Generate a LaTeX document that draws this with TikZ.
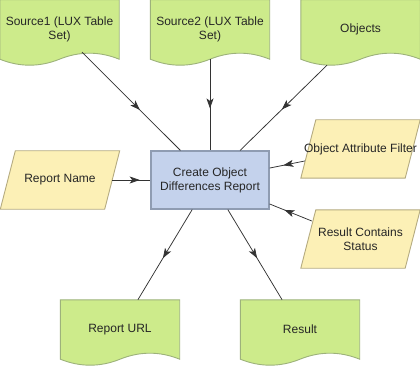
\documentclass[tikz,border=0pt]{standalone}
\usepackage{fontspec}
\setmainfont{Liberation Sans}
\usepackage{tikz}
\usetikzlibrary{arrows.meta,calc,decorations.markings,backgrounds}

\definecolor{docfill}{HTML}{CDEB8B}
\definecolor{docline}{HTML}{9DB27B}
\definecolor{parafill}{HTML}{FCF0B6}
\definecolor{paraline}{HTML}{B5AB80}
\definecolor{procfill}{HTML}{C4D2EC}
\definecolor{procline}{HTML}{8F9CB2}
\definecolor{flowgray}{HTML}{333333}

\begin{document}
\begin{tikzpicture}[x=1pt, y=-1pt,
  doc/.style={rectangle, inner sep=0pt, minimum width=119pt, minimum height=59pt, align=center, font=\fontsize{12}{14}\selectfont, text=black!85},
  docshape/.style={draw=docline, fill=docfill, line width=0.9pt},
  para/.style={rectangle, inner sep=0pt, minimum width=119pt, minimum height=58pt, align=center, font=\fontsize{12}{14}\selectfont, text=black!85},
  parashape/.style={draw=paraline, fill=parafill, line width=0.9pt},
  proc/.style={rectangle, draw=procline, fill=procfill, line width=1.2pt, minimum width=118pt, minimum height=58pt, align=center, font=\fontsize{12}{14}\selectfont, text=black!85},
  flow/.style={draw, color=flowgray, line width=0.75pt, postaction={decorate}, decoration={markings, mark=at position #1 with {\arrow{Stealth[length=10pt,width=7pt,inset=2.5pt]}}}}
]
\useasboundingbox (0,0) rectangle (420,366);

% inputs on top
\node[doc] (src1) at (59.5, 29.5) {Source1 (LUX Table\\Set)};
\node[doc] (src2) at (210, 29.5) {Source2 (LUX Table\\Set)};
\node[doc] (objs) at (360.5, 29.5) {Objects};

% parameters
\node[para] (rname) at (60, 180) {Report Name};
\node[para] (oaf) at (360.5, 149) {\makebox[0pt]{Object Attribute Filter}};
\node[para] (rcs) at (360.5, 239) {Result Contains\\Status};

\node[proc] (proc) at (210, 180) {Create Object\\Differences Report};

% outputs
\node[doc] (url) at (120, 329.5) {Report URL};
\node[doc] (res) at (300, 329.5) {Result};

\begin{scope}[on background layer]
\foreach \n in {src1,src2,objs,url,res}
  \draw[docshape] (\n.north west) -- (\n.north east) -- (\n.south east)
    .. controls ($(\n.south east)+(-19.8,-8)$) and ($(\n.south)+(19.8,-8)$) .. (\n.south)
    .. controls ($(\n.south)+(-19.8,8)$) and ($(\n.south west)+(19.8,8)$) .. (\n.south west) -- cycle;
\foreach \n in {rname,oaf,rcs}
  \draw[parashape] (\n.south west) -- ($(\n.north west)+(15,0)$) -- (\n.north east)
    -- ($(\n.south east)+(-15,0)$) -- cycle;
\end{scope}

% where the lines leave the wavy and slanted edges
\coordinate (src1-out) at ($(src1.south)+(22.5,-7)$);
\coordinate (objs-out) at ($(objs.south)+(-33.5,6)$);
\coordinate (rname-out) at ($(rname.east)+(-7.5,0)$);
\coordinate (oaf-out) at ($(oaf.west)+(4,12)$);
\coordinate (rcs-out) at ($(rcs.west)+(11,-18)$);

\draw[flow=0.59] (src1-out) -- (proc);
\draw[flow=0.54] (src2) -- (proc);
\draw[flow=0.52] (objs-out) -- (proc);
\draw[flow=0.72] (rname-out) -- (proc);
\draw[flow=0.61] (oaf-out) -- (proc);
\draw[flow=0.65] (rcs-out) -- (proc);
\draw[flow=0.54] (proc) -- (url);
\draw[flow=0.54] (proc) -- (res);
\end{tikzpicture}
\end{document}
